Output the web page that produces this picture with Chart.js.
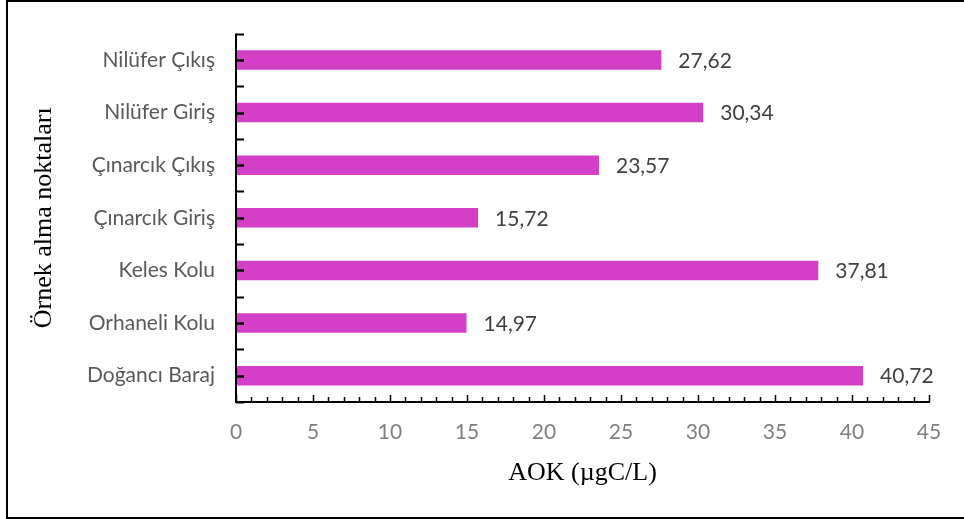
<!DOCTYPE html>
<html>
<head>
<meta charset="utf-8">
<script src="https://cdn.jsdelivr.net/npm/chart.js@4"></script>
<style>
  html, body { margin: 0; padding: 0; background: #fff; overflow: hidden; }
  #frame { position: absolute; left: 6px; top: 0px; width: 980px; height: 515px; border: 2px solid #000; box-sizing: content-box; }
  #wrap { position: absolute; left: 0; top: 0; width: 964px; height: 519px; }
</style>
</head>
<body>
<div id="frame"></div>
<div id="wrap"><canvas id="c" width="964" height="519"></canvas></div>
<script>
const categories = ["Nilüfer Çıkış", "Nilüfer Giriş", "Çınarcık Çıkış", "Çınarcık Giriş", "Keles Kolu", "Orhaneli Kolu", "Doğancı Baraj"];
const aokValues = [27.62, 30.34, 23.57, 15.72, 37.81, 14.97, 40.72];
const xTickMin = 0;
const xTickMax = 45;
const xTickStep = 5;
const xTitle = "AOK (µgC/L)";
const yTitle = "Örnek alma noktaları";

const fmt = v => v.toFixed(2).replace('.', ',');
const SANS = 'Lato, "Open Sans", sans-serif';
const SERIF = '"Liberation Serif", "Times New Roman", serif';

const axisTicksPlugin = {
  id: 'axisTicks',
  afterDatasetsDraw(chart) {
    const ctx = chart.ctx;
    const x = chart.scales.x, y = chart.scales.y;
    const area = chart.chartArea;
    ctx.save();
    ctx.strokeStyle = '#000';
    ctx.lineWidth = 1.5;
    for (let v = xTickMin; v <= xTickMax; v++) {
      const px = Math.round(x.getPixelForValue(v)) + 0.5;
      const len = (v % xTickStep === 0) ? 7 : 5;
      ctx.beginPath();
      ctx.moveTo(px, area.bottom);
      ctx.lineTo(px, area.bottom - len);
      ctx.stroke();
    }
    const n = categories.length;
    for (let i = 0; i <= 2 * n; i++) {
      const val = -0.5 + i / 2;
      const py = Math.round(y.getPixelForValue(val)) + 0.5;
      ctx.lineWidth = (i % 2 === 1) ? 2.5 : 2;
      ctx.beginPath();
      ctx.moveTo(area.left, py);
      ctx.lineTo(area.left + 8, py);
      ctx.stroke();
    }
    ctx.lineWidth = 2;
    ctx.beginPath();
    ctx.moveTo(area.left, area.top);
    ctx.lineTo(area.left, area.bottom);
    ctx.lineTo(x.getPixelForValue(xTickMax) + 1, area.bottom);
    ctx.stroke();
    ctx.fillStyle = '#404040';
    ctx.font = '21px ' + SANS;
    ctx.textAlign = 'left';
    ctx.textBaseline = 'middle';
    const meta = chart.getDatasetMeta(0);
    meta.data.forEach((bar, i) => {
      ctx.fillText(fmt(aokValues[i]), bar.x + 17, bar.y + 1);
    });
    ctx.restore();
  }
};

new Chart(document.getElementById('c'), {
  type: 'bar',
  data: {
    labels: categories,
    datasets: [{
      data: aokValues,
      backgroundColor: '#D43FC7',
      borderWidth: 0,
      categoryPercentage: 1,
      barPercentage: 0.37
    }]
  },
  plugins: [axisTicksPlugin],
  options: {
    indexAxis: 'y',
    responsive: false,
    animation: false,
    devicePixelRatio: 1,
    layout: { padding: { left: 0, right: 35, top: 30, bottom: 0 } },
    plugins: { legend: { display: false }, tooltip: { enabled: false } },
    scales: {
      x: {
        min: xTickMin, max: xTickMax,
        ticks: { stepSize: xTickStep, color: '#7F7F7F', font: { family: SANS, size: 21 }, padding: 18 },
        grid: { display: false, drawTicks: false },
        border: { display: false },
        title: { display: true, text: xTitle, color: '#000', font: { family: SERIF, size: 26 }, padding: { top: 0, bottom: 30 } },
        afterFit(s) { s.height = 117; }
      },
      y: {
        ticks: { color: '#595959', font: { family: SANS, size: 21 }, padding: 21 },
        grid: { display: false, drawTicks: false },
        border: { display: false },
        title: { display: true, text: yTitle, color: '#000', font: { family: SERIF, size: 26 }, padding: { top: 29, bottom: 0 } },
        afterFit(s) { s.width = 236; }
      }
    }
  }
});
</script>
</body>
</html>
